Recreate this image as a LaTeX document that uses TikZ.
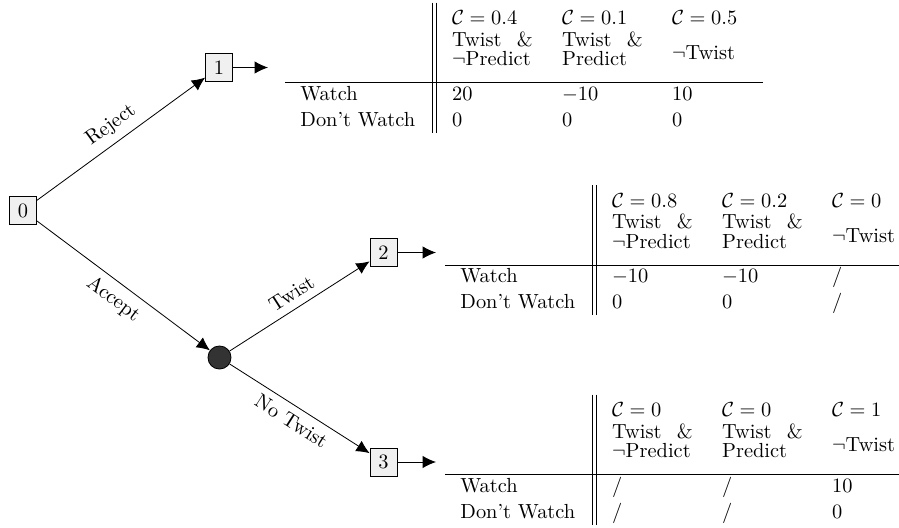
\documentclass[tikz,border=0pt]{standalone}
\usetikzlibrary{arrows.meta}
\tikzset{
  decision/.style={draw=black, fill=gray!12, minimum width=13.2pt, minimum height=13.8pt, inner sep=2pt},
  chance/.style={circle, draw=black, fill=black!80, minimum size=11.3pt, inner sep=0pt},
  arr/.style={-{Latex[length=6.5pt,width=6pt]}},
  cell/.style={anchor=base west, inner sep=0pt},
  lab/.style={midway, sloped, inner sep=3.6pt}
}
% frame and header of a pay-off table: #1 prefix, #2 x, #3 y (left end of the rule), #4-#6 credences
\newcommand{\tabframe}[6]{%
  \begin{scope}[shift={(#2,#3)}]
    \coordinate (#1hl) at (0,0);
    \coordinate (#1hr) at (478,0);
    \coordinate (#1vat) at (147,-80);
    \coordinate (#1vab) at (147,50);
    \coordinate (#1vbt) at (151.5,-80);
    \coordinate (#1vbb) at (151.5,50);
    \draw (#1hl) -- (#1hr);
    \draw (#1vat) -- (#1vab);
    \draw (#1vbt) -- (#1vbb);
    \node[cell] (#1ca) at (166.7,-58) {$\mathcal{C}=#4$};
    \node[cell] (#1cb) at (276.7,-58) {$\mathcal{C}=#5$};
    \node[cell] (#1cc) at (386.7,-58) {$\mathcal{C}=#6$};
    \node[cell] (#1ta) at (166.7,-36.5) {Twist\hskip 7.5pt\&};
    \node[cell] (#1pa) at (166.7,-17) {$\neg$Predict};
    \node[cell] (#1tb) at (276.7,-36.5) {Twist\hskip 7.5pt\&};
    \node[cell] (#1pb) at (276.7,-17) {Predict};
    \node[cell] (#1nt) at (386.7,-23) {$\neg$Twist};
    \node[cell] (#1w) at (15,17.5) {Watch};
    \node[cell] (#1d) at (15,43.5) {Don't Watch};
  \end{scope}}
% values of a pay-off table: #1 prefix, #2 x, #3 y, #4-#6 Watch row, #7-#9 Don't Watch row
\newcommand{\tabvals}[9]{%
  \begin{scope}[shift={(#2,#3)}]
    \node[cell] (#1wa) at (166.7,17.5) {#4};
    \node[cell] (#1wb) at (276.7,17.5) {#5};
    \node[cell] (#1wc) at (386.7,17.5) {#6};
    \node[cell] (#1da) at (166.7,43.5) {#7};
    \node[cell] (#1db) at (276.7,43.5) {#8};
    \node[cell] (#1dc) at (386.7,43.5) {#9};
  \end{scope}}
\begin{document}
\begin{tikzpicture}[x=0.49pt, y=-0.49pt]
\useasboundingbox (0,0) rectangle (899,527);
% decision tree
\node[decision] (n0) at (23,210.5) {0};
\node[decision] (n1) at (219,67.5) {1};
\node[chance]   (c)  at (219.5,357.5) {};
\node[decision] (n2) at (383.5,252.5) {2};
\node[decision] (n3) at (383.5,462) {3};
\coordinate (e1) at (268,67.5);
\coordinate (e2) at (436,252.5);
\coordinate (e3) at (436,462);
\draw[arr] (n0) -- (n1) node[lab, above] {Reject};
\draw[arr] (n0) -- (c)  node[lab, below] {Accept};
\draw[arr] (c)  -- (n2) node[lab, above] {Twist};
\draw[arr] (c)  -- (n3) node[lab, below] {No Twist};
\draw[arr] (n1) -- (e1);
\draw[arr] (n2) -- (e2);
\draw[arr] (n3) -- (e3);
% tables
\tabframe{ta}{285}{82.7}{0.4}{0.1}{0.5}
\tabvals{ta}{285}{82.7}{20}{$-10$}{10}{0}{0}{0}
\tabframe{tb}{445}{265}{0.8}{0.2}{0}
\tabvals{tb}{445}{265}{$-10$}{$-10$}{/}{0}{0}{/}
\tabframe{tc}{445}{474.5}{0}{0}{1}
\tabvals{tc}{445}{474.5}{/}{/}{10}{/}{/}{0}
\end{tikzpicture}
\end{document}
